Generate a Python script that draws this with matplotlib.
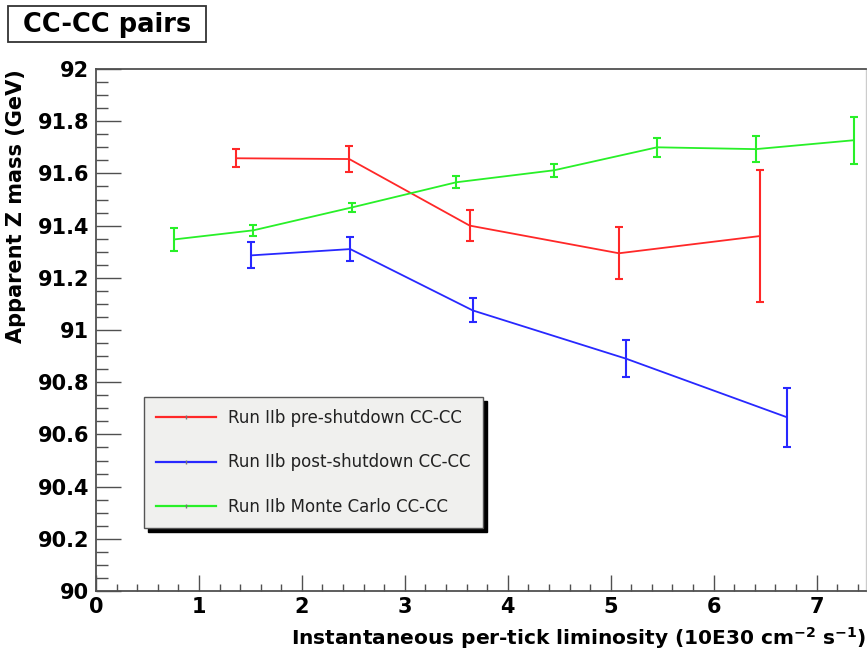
import matplotlib
matplotlib.use("Agg")
import matplotlib.pyplot as plt
from matplotlib.patches import Rectangle
from matplotlib.lines import Line2D
from matplotlib.ticker import MultipleLocator, FormatStrFormatter

# ---- data ----
pre_x = [1.36, 2.46, 3.63, 5.08, 6.45]
pre_y = [91.658, 91.655, 91.400, 91.294, 91.360]
pre_e = [0.035, 0.050, 0.058, 0.100, 0.253]

post_x = [1.51, 2.47, 3.66, 5.15, 6.71]
post_y = [91.286, 91.310, 91.075, 90.890, 90.666]
post_e = [0.050, 0.045, 0.046, 0.070, 0.113]

mc_x = [0.76, 1.53, 2.49, 3.50, 4.45, 5.45, 6.41, 7.36]
mc_y = [91.347, 91.382, 91.470, 91.566, 91.612, 91.700, 91.693, 91.727]
mc_e = [0.045, 0.020, 0.016, 0.023, 0.025, 0.036, 0.050, 0.090]

labels = ["Run IIb pre-shutdown CC-CC",
          "Run IIb post-shutdown CC-CC",
          "Run IIb Monte Carlo CC-CC"]
colors = ["#ff2828", "#2828ff", "#28f028"]

title = "CC-CC pairs"
xlabel = "Instantaneous per-tick liminosity (10E30 cm$^{\\mathbf{-2}}$ s$^{\\mathbf{-1}}$)"
ylabel = "Apparent Z mass (GeV)"

W, H = 867, 653
fig = plt.figure(figsize=(W / 100, H / 100), dpi=100)
fig.patch.set_facecolor("white")

ax = fig.add_axes([96 / W, (H - 591) / H, (866 - 96) / W, (591 - 69) / H])

series = [(pre_x, pre_y, pre_e), (post_x, post_y, post_e), (mc_x, mc_y, mc_e)]
handles = []
for (x, y, e), c, lab in zip(series, colors, labels):
    ax.errorbar(x, y, yerr=e, color=c, lw=1.3, elinewidth=1.5,
                capsize=2.6, capthick=1.5, label=lab)
    handles.append(Line2D([], [], color=c, lw=1.6, marker="|",
                          markersize=3, markeredgecolor="#777777",
                          markeredgewidth=1.0))

ax.set_xlim(0, 7.48)
ax.set_ylim(90, 92)
ax.xaxis.set_major_locator(MultipleLocator(1))
ax.xaxis.set_minor_locator(MultipleLocator(0.2))
ax.yaxis.set_major_locator(MultipleLocator(0.2))
ax.yaxis.set_minor_locator(MultipleLocator(0.05))
ax.yaxis.set_major_formatter(FormatStrFormatter("%g"))
ax.xaxis.set_major_formatter(FormatStrFormatter("%g"))

tc = "#505050"
ax.tick_params(axis="both", which="both", direction="in", color=tc, width=1.0,
               top=False, right=False)
ax.tick_params(axis="y", which="major", length=18, pad=5, labelsize=15)
ax.tick_params(axis="y", which="minor", length=8.5)
ax.tick_params(axis="x", which="major", length=11.5, pad=4, labelsize=15)
ax.tick_params(axis="x", which="minor", length=5)
for lab in ax.get_xticklabels() + ax.get_yticklabels():
    lab.set_fontweight("bold")
for s in ["left", "bottom", "top"]:
    ax.spines[s].set_color(tc)
    ax.spines[s].set_linewidth(1.3)
ax.spines["right"].set_color("#cccccc")
ax.spines["right"].set_linewidth(1.0)

ax.set_xlabel(xlabel, loc="right", fontsize=14.5, fontweight="bold", labelpad=6)
ax.set_ylabel(ylabel, loc="top", fontsize=15, fontweight="bold", labelpad=8)

leg = ax.legend(handles=handles, labels=labels,
                loc="upper left", mode="expand",
                bbox_to_anchor=(144 / W, (H - 528) / H, (483 - 144) / W, (528 - 397) / H),
                bbox_transform=fig.transFigure, borderaxespad=0,
                fontsize=12, frameon=True, fancybox=False,
                edgecolor="#555555", facecolor="#f0f0ee", framealpha=1,
                handlelength=3.6, handletextpad=0.75, borderpad=0.7,
                labelspacing=1.6,
                shadow={"ox": 3, "oy": -3, "color": "black", "alpha": 1})
leg.get_frame().set_linewidth(1.0)
for t in leg.get_texts():
    t.set_color("#222222")

# title box
fig.patches.append(Rectangle((8 / W, 1 - 42 / H), (206 - 8) / W, (42 - 6) / H,
                             transform=fig.transFigure, fill=False,
                             edgecolor="#333333", lw=1.3))
fig.text(107 / W, 1 - 24.5 / H, title, ha="center", va="center",
         fontsize=18.5, fontweight="bold")

fig.savefig("out.png", dpi=100)
